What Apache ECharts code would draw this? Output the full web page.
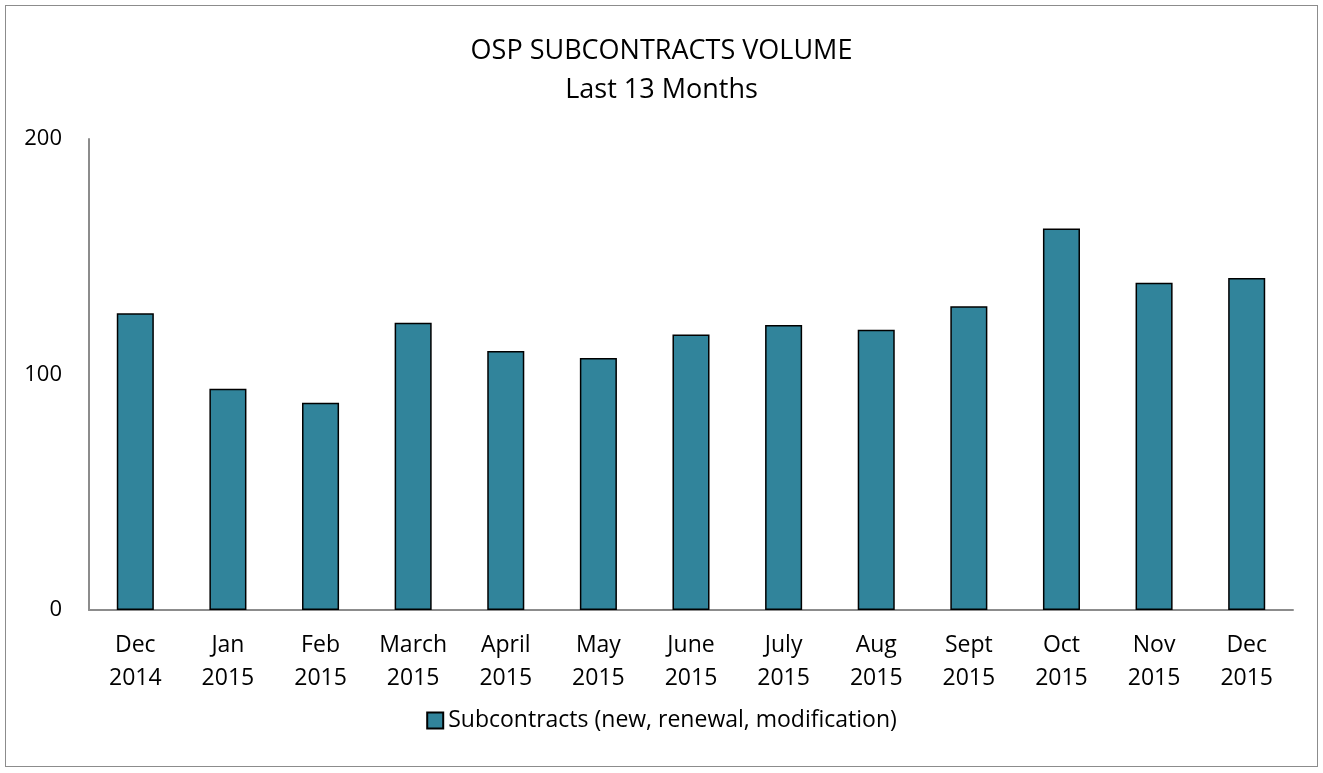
<!DOCTYPE html>
<html>
<head>
<meta charset="utf-8">
<script src="https://cdn.jsdelivr.net/npm/echarts@6/dist/echarts.min.js"></script>
<style>
  html, body { margin: 0; padding: 0; background: #fff; }
  #frame {
    position: absolute; left: 5px; top: 5px; width: 1313px; height: 762px;
    border: 1px solid #8c8c8c; box-sizing: border-box;
  }
  #chart { position: absolute; left: 0; top: 0; width: 1323px; height: 773px; }
</style>
</head>
<body>
<div id="frame"></div>
<div id="chart"></div>
<script>
// 月份类别与数值
const categories = ['Dec\n2014', 'Jan\n2015', 'Feb\n2015', 'March\n2015', 'April\n2015', 'May\n2015',
  'June\n2015', 'July\n2015', 'Aug\n2015', 'Sept\n2015', 'Oct\n2015', 'Nov\n2015', 'Dec\n2015']
const subcontracts = [126, 94, 88, 122, 110, 107, 117, 121, 119, 129, 162, 139, 141]
const yTicks = [0, 100, 200]

const fontFamily = '"Open Sans", "Liberation Sans", sans-serif'

const chart = echarts.init(document.getElementById('chart'))
chart.setOption({
  animation: false,
  title: {
    text: 'OSP SUBCONTRACTS VOLUME\nLast 13 Months',
    left: 'center',
    top: 27,
    textStyle: { fontFamily, fontSize: 27, fontWeight: 'normal', color: '#000', lineHeight: 39 }
  },
  legend: {
    bottom: 36,
    left: 'center',
    itemWidth: 16,
    itemHeight: 16,
    itemGap: 6,
    icon: 'rect',
    textStyle: { fontFamily, fontSize: 23, color: '#000' },
    data: ['Subcontracts (new, renewal, modification)']
  },
  grid: { left: 89, right: 30, top: 139, bottom: 163 },
  xAxis: {
    type: 'category',
    data: categories,
    axisLine: { lineStyle: { color: '#8c8c8c', width: 2 } },
    axisTick: { show: false },
    axisLabel: { fontFamily, fontSize: 23, color: '#000', margin: 19, lineHeight: 33 }
  },
  yAxis: {
    type: 'value',
    min: yTicks[0],
    max: yTicks[yTicks.length - 1],
    interval: 100,
    axisLine: { show: true, lineStyle: { color: '#8c8c8c', width: 2 } },
    axisTick: { show: false },
    splitLine: { show: false },
    axisLabel: { fontFamily, fontSize: 22, color: '#000', margin: 27 }
  },
  series: [{
    name: 'Subcontracts (new, renewal, modification)',
    type: 'bar',
    data: subcontracts,
    barWidth: '40%',
    itemStyle: { color: '#31849b', borderColor: '#000', borderWidth: 1.5 }
  }]
})
</script>
</body>
</html>
